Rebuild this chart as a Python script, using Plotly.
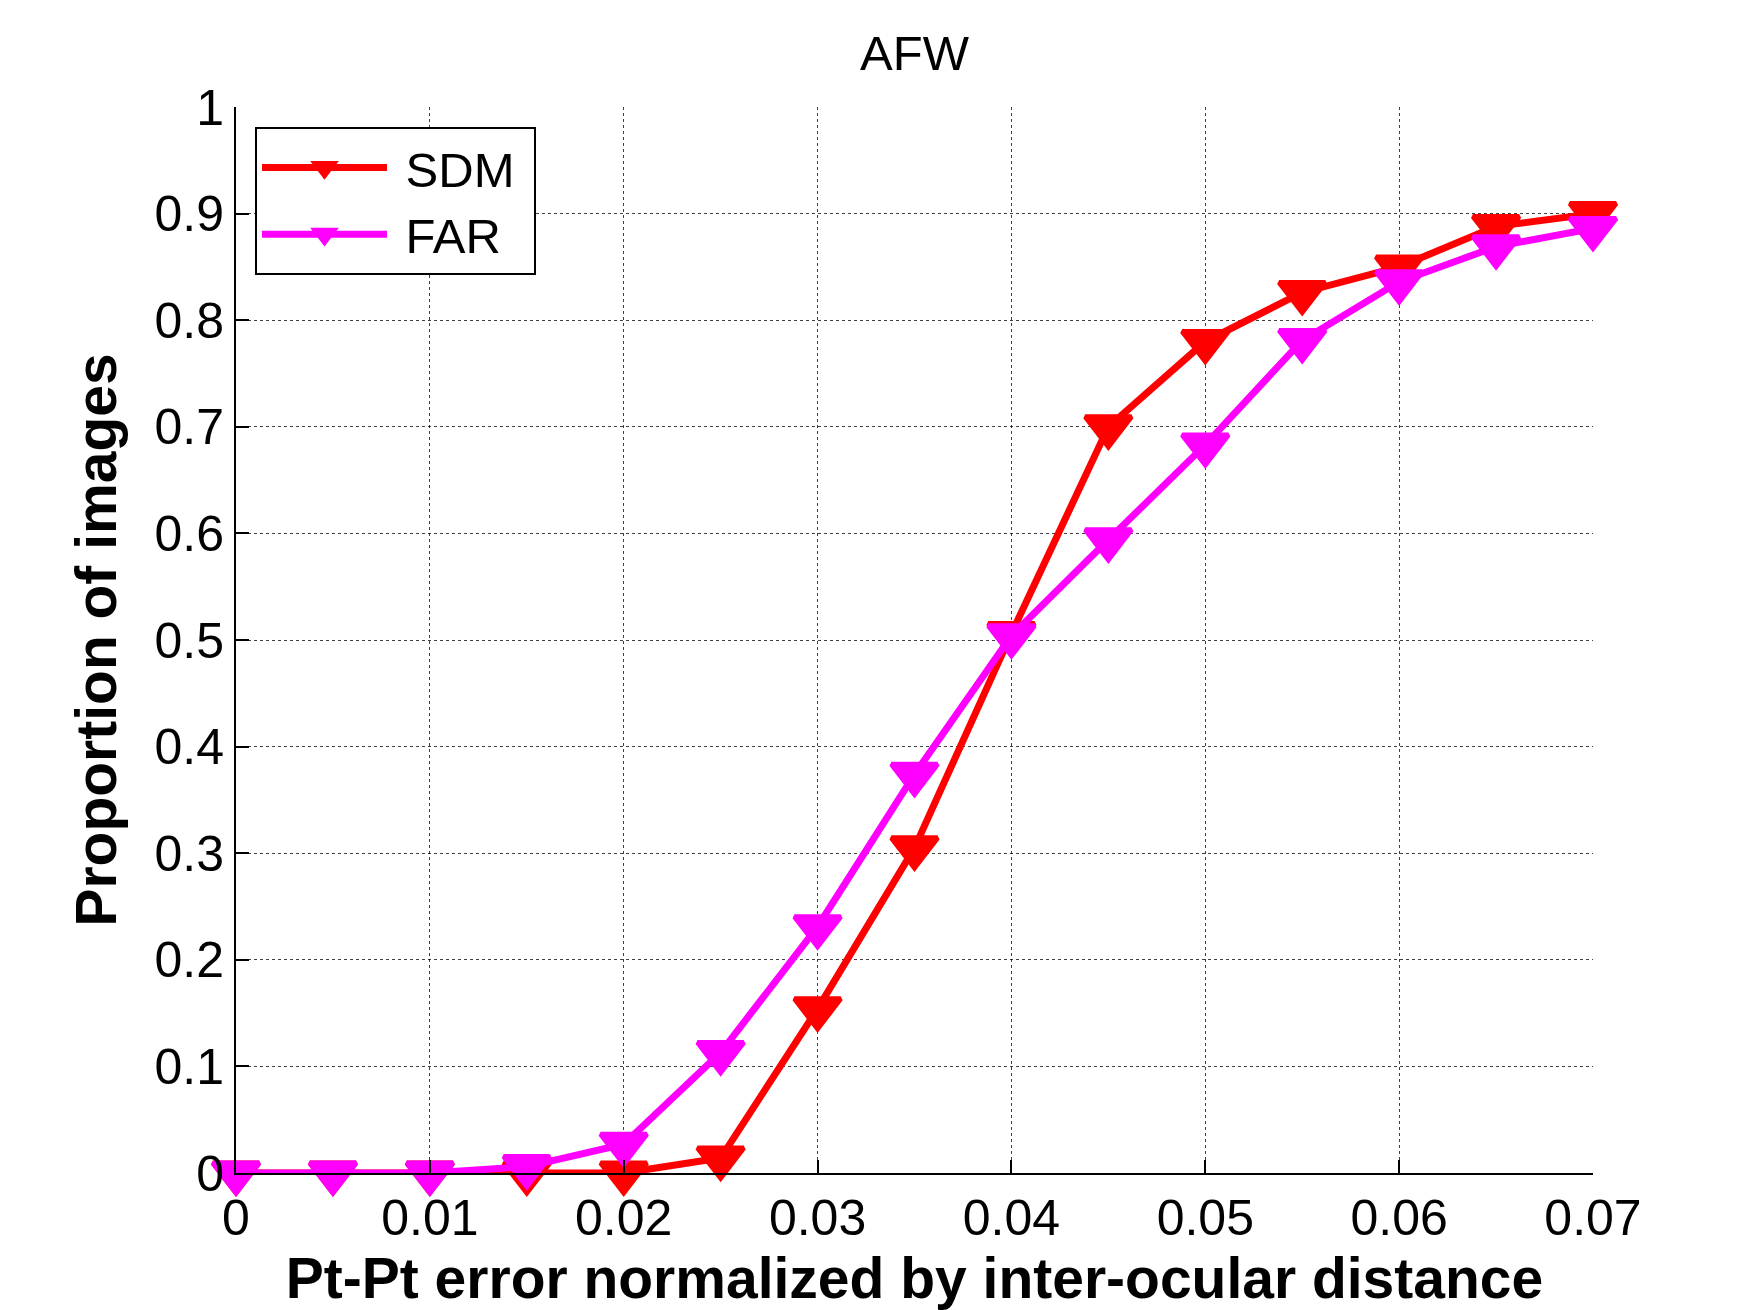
import plotly.graph_objects as go

x_vals = [0, 0.005, 0.01, 0.015, 0.02, 0.025, 0.03, 0.035, 0.04, 0.045, 0.05, 0.055, 0.06, 0.065, 0.07]
sdm = [0, 0, 0, 0, 0, 0.014, 0.154, 0.305, 0.506, 0.70, 0.78, 0.826, 0.85, 0.888, 0.90]
far = [0, 0, 0, 0.006, 0.027, 0.113, 0.231, 0.374, 0.504, 0.594, 0.683, 0.781, 0.836, 0.869, 0.886]

x_ticks = [0, 0.01, 0.02, 0.03, 0.04, 0.05, 0.06, 0.07]
x_ticklabels = ["0", "0.01", "0.02", "0.03", "0.04", "0.05", "0.06", "0.07"]
y_ticks = [0, 0.1, 0.2, 0.3, 0.4, 0.5, 0.6, 0.7, 0.8, 0.9, 1]
y_ticklabels = ["0", "0.1", "0.2", "0.3", "0.4", "0.5", "0.6", "0.7", "0.8", "0.9", "1"]

FONT = "Liberation Sans, Arial, sans-serif"

fig = go.Figure()
for name, vals, color in [("SDM", sdm, "#ff0000"), ("FAR", far, "#ff00ff")]:
    fig.add_trace(go.Scatter(
        x=x_vals, y=vals, name="\u00a0" + name + "\u00a0", mode="lines+markers",
        line=dict(color=color, width=7),
        marker=dict(symbol="triangle-down", size=40, color=color,
                    line=dict(color=color, width=5)),
        cliponaxis=False,
    ))

fig.update_layout(
    width=1751, height=1310,
    margin=dict(l=228, r=166, t=99, b=145),
    paper_bgcolor="white", plot_bgcolor="white",
    font=dict(family=FONT, size=50, color="black"),
    title=dict(text="AFW", x=0.5, xref="paper", y=1 - 45 / 1310, yanchor="middle",
               font=dict(family=FONT, size=49, color="black")),
    showlegend=True,
    legend=dict(x=0.014, y=0.981, xanchor="left", yanchor="top",
                bgcolor="white", bordercolor="black", borderwidth=2,
                font=dict(family=FONT, size=49, color="black"),
                itemwidth=125, tracegroupgap=0),
    xaxis=dict(
        range=[0, 0.07], tickvals=x_ticks, ticktext=x_ticklabels,
        showgrid=True, gridcolor="rgba(0,0,0,0.75)", griddash="dot", gridwidth=1,
        showline=True, linecolor="black", linewidth=2,
        ticks="inside", ticklen=13, tickwidth=2, tickcolor="black",
        zeroline=False,
        title=dict(text="<b>Pt-Pt error normalized by inter-ocular distance</b>",
                   font=dict(family=FONT, size=57, color="black"), standoff=10),
    ),
    yaxis=dict(
        range=[0, 1], tickvals=y_ticks, ticktext=y_ticklabels,
        showgrid=True, gridcolor="rgba(0,0,0,0.75)", griddash="dot", gridwidth=1,
        showline=True, linecolor="black", linewidth=2,
        ticks="inside", ticklen=13, tickwidth=2, tickcolor="black",
        zeroline=False,
        title=dict(text="<b>Proportion of images</b>",
                   font=dict(family=FONT, size=57, color="black"), standoff=20),
    ),
)

fig.write_html("out.html")
